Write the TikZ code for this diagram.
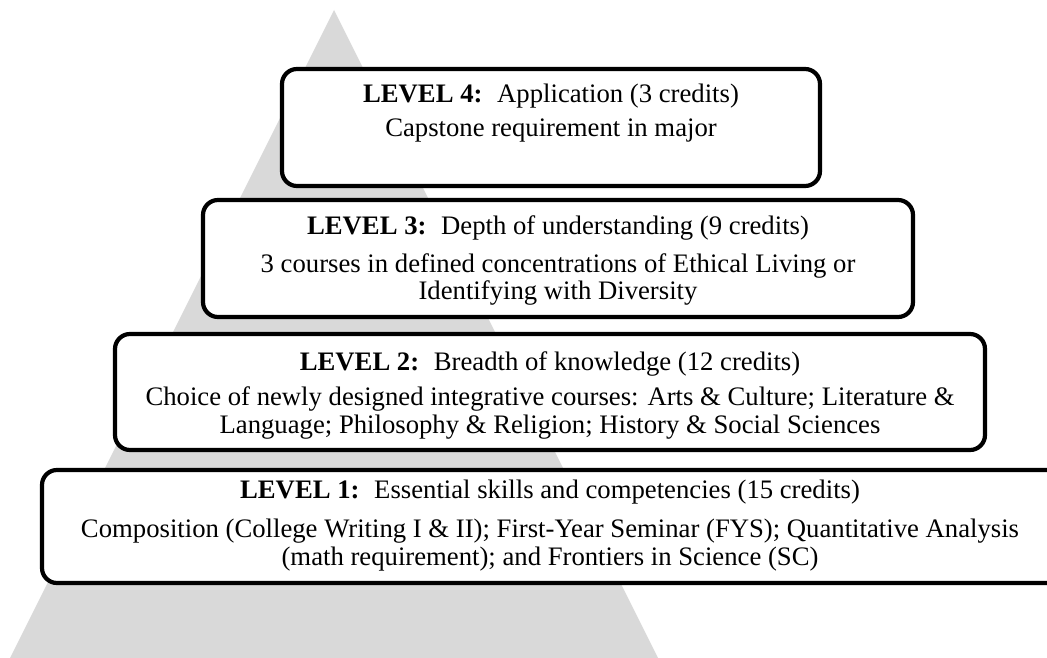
\documentclass[tikz,border=0pt]{standalone}
\usepackage{fontspec}
\setmainfont{Liberation Serif}
\newcommand{\lvlgap}{\hspace{0.55em}}
\begin{document}
\begin{tikzpicture}[x=1pt,y=-1pt,
  lvlbox/.style={draw=black,line width=4.2pt,rounded corners=15pt,fill=white},
  txt/.style={inner sep=0pt,anchor=base,font=\fontsize{26.7}{32}\selectfont},
  tri/.style={fill=black!15,draw=none}]
\useasboundingbox (0,0) rectangle (1047,658);
\fill[tri] (334,10) -- (658,658) -- (10,658) -- cycle;
% boxes (outer edges inset by half the line width)
\draw[lvlbox] (282,69) rectangle (820,186);
\draw[lvlbox] (203,200) rectangle (913,317);
\draw[lvlbox] (115,334) rectangle (985,450);
\draw[lvlbox] (42,470) rectangle (1062,583);
% level 4
\node[txt] (l4a) at (551,103) {\textbf{LEVEL 4:}\lvlgap Application (3 credits)};
\node[txt] (l4b) at (551,137) {Capstone requirement in major};
% level 3
\node[txt] (l3a) at (558,234) {\textbf{LEVEL 3:}\lvlgap Depth of understanding (9 credits)};
\node[txt] (l3b) at (558,272) {3 courses in defined concentrations of Ethical Living or};
\node[txt] (l3c) at (558,299) {Identifying with Diversity};
% level 2
\node[txt] (l2a) at (550,370) {\textbf{LEVEL 2:}\lvlgap Breadth of knowledge (12 credits)};
\node[txt] (l2b) at (550,405) {Choice of newly designed integrative courses: Arts \& Culture; Literature \&};
\node[txt] (l2c) at (550,433) {Language; Philosophy \& Religion; History \& Social Sciences};
% level 1
\node[txt] (l1a) at (550,498) {\textbf{LEVEL 1:}\lvlgap Essential skills and competencies (15 credits)};
\node[txt] (l1b) at (550,537) {Composition (College Writing I \& II); First-Year Seminar (FYS); Quantitative Analysis};
\node[txt] (l1c) at (550,565) {(math requirement); and Frontiers in Science (SC)};
\end{tikzpicture}
\end{document}
